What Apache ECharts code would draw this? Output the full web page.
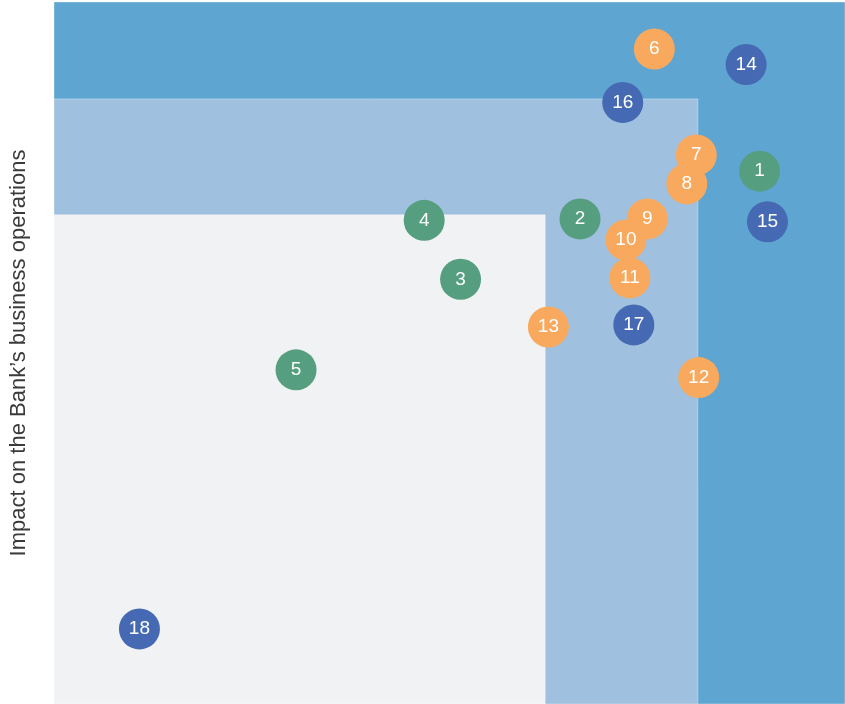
<!DOCTYPE html>
<html>
<head>
<meta charset="utf-8">
<script src="https://cdn.jsdelivr.net/npm/echarts@6/dist/echarts.min.js"></script>
<style>html,body{margin:0;padding:0;background:#fff}#c{width:845px;height:704px}</style>
</head>
<body>
<div id="c"></div>
<script>
// Risk ids and positions (x: likelihood-ish 0-100, y: impact 0-100)
const greenIds = [1, 2, 3, 4, 5];
const greenX = [89.2, 66.5, 51.4, 46.8, 30.6];
const greenY = [75.9, 69.1, 60.5, 68.9, 47.6];

const orangeIds = [6, 7, 8, 9, 10, 11, 12, 13];
const orangeX = [75.9, 81.2, 80.0, 75.0, 72.3, 72.8, 81.5, 62.5];
const orangeY = [93.3, 78.2, 74.1, 69.1, 66.1, 60.7, 46.5, 53.7];

const blueIds = [14, 15, 16, 17, 18];
const blueX = [87.5, 90.2, 71.9, 73.3, 10.8];
const blueY = [91.1, 68.7, 85.7, 54.0, 10.7];

// Zone boundaries [xMax, yMax]
const zoneOuter = [100, 100];
const zoneMiddle = [81.4, 86.2];
const zoneInner = [62.1, 69.7];

const yAxisTitle = 'Impact on the Bank\u2019s business operations';

function pts(ids, xs, ys) { return ids.map((id, i) => [xs[i], ys[i], id]); }

const chart = echarts.init(document.getElementById('c'));
const pointSeries = (name, data, color, z) => ({
  name, type: 'scatter', data, symbolSize: 41, z,
  itemStyle: { color: color, opacity: 1 },
  label: { show: true, position: 'inside', formatter: p => p.value[2], color: '#fff', fontSize: 19, fontFamily: 'Liberation Sans, Arial, sans-serif' },
  emphasis: { disabled: true }
});
const zoneStyle = (c) => ({ color: c, borderColor: 'rgba(255,255,255,0.35)', borderWidth: 1, opacity: 1 });
chart.setOption({
  animation: false,
  grid: { left: 53, right: 0, top: 2, bottom: 0 },
  xAxis: { type: 'value', min: 0, max: 100, show: false },
  yAxis: {
    type: 'value', min: 0, max: 100,
    axisLine: { show: false }, axisTick: { show: false }, axisLabel: { show: false }, splitLine: { show: false },
    name: yAxisTitle, nameLocation: 'middle', nameRotate: 90, nameGap: 24,
    nameTextStyle: { fontSize: 22, color: '#3a3a3a', fontFamily: 'Liberation Sans, Arial, sans-serif' }
  },
  series: [
    {
      type: 'scatter', data: [], z: 1, silent: true,
      markArea: {
        silent: true,
        data: [
          [{ coord: [0, 0], itemStyle: zoneStyle('#5ea5d2') }, { coord: zoneOuter }],
          [{ coord: [0, 0], itemStyle: zoneStyle('#9fc0de') }, { coord: zoneMiddle }],
          [{ coord: [0, 0], itemStyle: zoneStyle('#f1f2f4') }, { coord: zoneInner }]
        ]
      }
    },
    pointSeries('green', pts(greenIds, greenX, greenY), '#559e7f', 3),
    pointSeries('orange', pts(orangeIds, orangeX, orangeY), '#f8a95e', 4),
    pointSeries('blue', pts(blueIds, blueX, blueY), '#4569b2', 5)
  ]
});
</script>
</body>
</html>
